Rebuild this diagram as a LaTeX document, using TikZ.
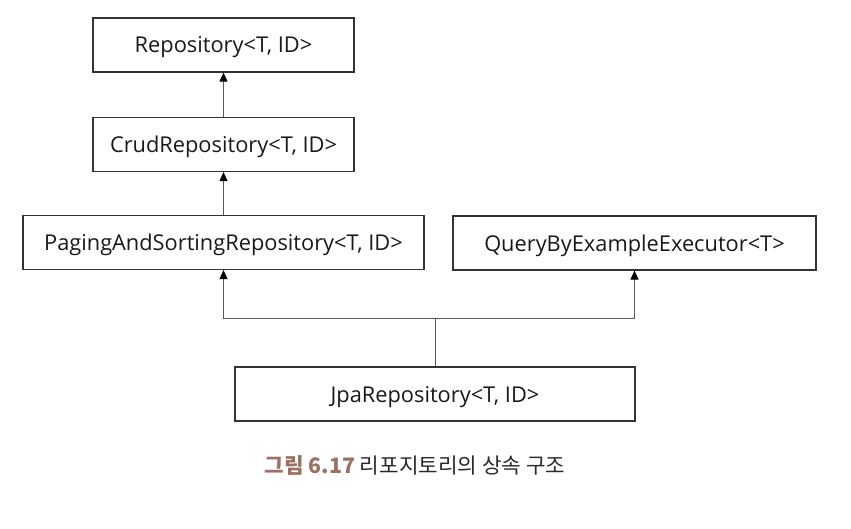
\documentclass[tikz,border=0pt]{standalone}
\usepackage{fontspec}
\usepackage{xcolor}
\setmainfont{Open Sans}
\newfontfamily\kofont{Noto Sans CJK KR}
\usetikzlibrary{positioning,arrows.meta}
\definecolor{capbrown}{HTML}{9A7265}
\definecolor{captext}{HTML}{2A2A2A}

\begin{document}
\begin{tikzpicture}[x=1pt,y=-1pt,
    repobox/.style={draw=black!80, line width=1.2pt, minimum height=54pt, inner sep=0pt, text depth=0pt, text=black!90, font=\fontsize{21.8}{26}\selectfont},
    inherit/.style={-{Triangle[length=9pt,width=8pt,color=black]}, draw=black!65, line width=1pt}]
    \useasboundingbox (0,0) rectangle (851,529);
    \node[repobox, minimum width=261pt] (repo) at (223.5,45) {Repository<T, ID>};
    \node[repobox, minimum width=261pt] (crud) at (223.5,144.5) {CrudRepository<T, ID>};
    \node[repobox, minimum width=401pt] (paging) at (223.5,242.5) {PagingAndSortingRepository<T, ID>};
    \node[repobox, minimum width=363pt] (query) at (634.5,243) {QueryByExampleExecutor<T>};
    \node[repobox, minimum width=400pt] (jpa) at (435,394) {JpaRepository<T, ID>};
    \coordinate (split) at (435,318);
    \draw[inherit] (crud) -- (repo);
    \draw[inherit] (paging) -- (crud);
    \draw[draw=black!65, line width=1pt] (jpa) -- (split);
    \draw[inherit] (split) -| (paging);
    \draw[inherit] (split) -| (query);
    \node[font=\fontsize{21.3}{25}\selectfont] (caption) at (415,465)
        {\kofont\color{capbrown}\bfseries 그림 6.17\color{captext}\mdseries\ 리포지토리의 상속 구조};
\end{tikzpicture}
\end{document}
